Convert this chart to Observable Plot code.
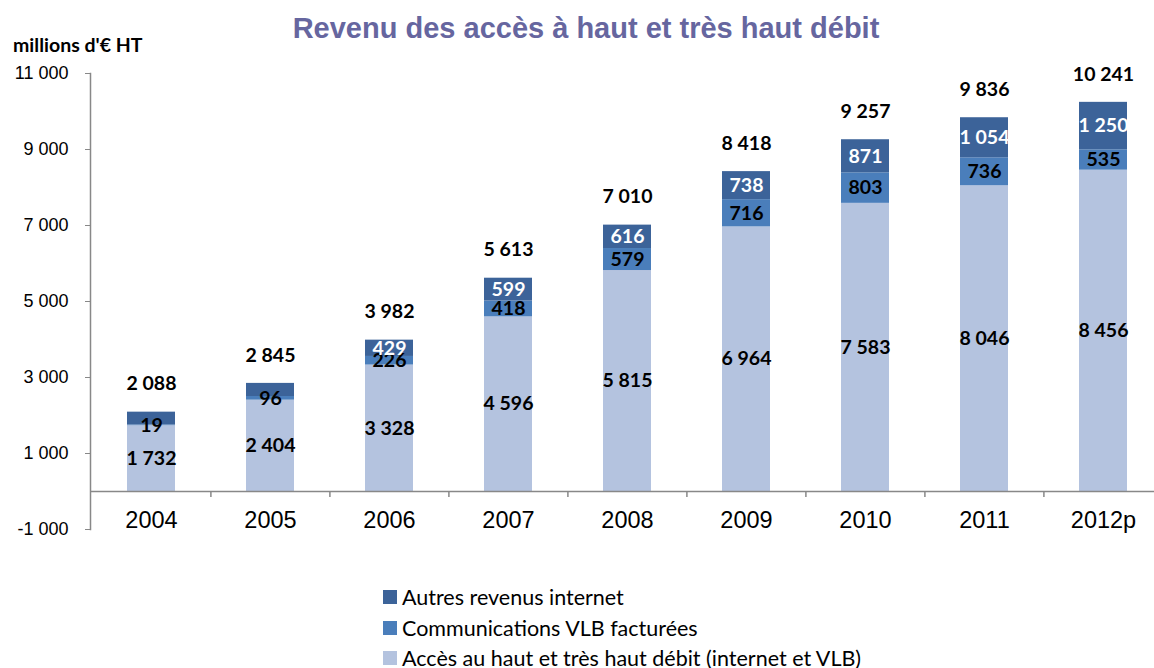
<!DOCTYPE html>
<html>
<head>
<meta charset="utf-8">
<script src="https://cdn.jsdelivr.net/npm/d3@7"></script>
<script src="https://cdn.jsdelivr.net/npm/@observablehq/plot@0.6"></script>
<style>
  html, body { margin: 0; padding: 0; background: #fff; overflow: hidden; }
  #wrap { position: relative; width: 1154px; height: 668px; }
  #title { position: absolute; left: 0; width: 1172px; top: 12px; text-align: center;
    font-family: "Liberation Sans", Arial, sans-serif; font-weight: bold; font-size: 29px; color: #66669F; }
  #unit { position: absolute; left: 13px; top: 33px; font-family: Lato, sans-serif; font-weight: bold; font-size: 19.5px; color: #000; }
  #chart { position: absolute; left: 0; top: 0; }
  #legend { position: absolute; left: 383px; top: 582px; font-family: Lato, sans-serif; font-size: 21.5px; color: #000; }
  .row { display: flex; align-items: center; height: 30.5px; }
  .sw { width: 14px; height: 14px; margin-right: 5px; }
</style>
</head>
<body>
<div id="wrap">
  <div id="chart"></div>
  <div id="title">Revenu des accès à haut et très haut débit</div>
  <div id="unit">millions d'€ HT</div>
  <div id="legend"></div>
</div>
<script>
const years = ["2004","2005","2006","2007","2008","2009","2010","2011","2012p"];
const acces = [1732, 2404, 3328, 4596, 5815, 6964, 7583, 8046, 8456];
const vlb = [19, 96, 226, 418, 579, 716, 803, 736, 535];
const autres = [337, 345, 429, 599, 616, 738, 871, 1054, 1250];
const totals = [2088, 2845, 3982, 5613, 7010, 8418, 9257, 9836, 10241];
const showAutresLabel = [false, false, true, true, true, true, true, true, true];
const seriesNames = ["Accès au haut et très haut débit (internet et VLB)", "Communications VLB facturées", "Autres revenus internet"];
const seriesColors = ["#B4C3DF", "#4A7EBB", "#3C6399"];
const yTicks = [-1000, 1000, 3000, 5000, 7000, 9000, 11000];

const loc = d3.formatLocale({decimal: ",", thousands: "\u00a0", grouping: [3], currency: ["", ""], minus: "-"});
const fmt = loc.format(",d");

const rows = [];
years.forEach((yr, i) => {
  const vals = [acces[i], vlb[i], autres[i]];
  let base = 0;
  vals.forEach((v, s) => {
    rows.push({year: yr, series: seriesNames[s], s, value: v, y1: base, y2: base + v,
      show: s === 2 ? showAutresLabel[i] : true});
    base += v;
  });
});
const totalRows = years.map((yr, i) => ({year: yr, total: totals[i]}));

const plot = Plot.plot({
  width: 1154,
  height: 560,
  marginTop: 73,
  marginBottom: 31,
  marginLeft: 90,
  marginRight: 0,
  x: {type: "band", domain: years, range: [90, 1163], paddingInner: 0.6, paddingOuter: 0.3, axis: null},
  y: {domain: [-1000, 11000], axis: null},
  color: {domain: seriesNames, range: seriesColors},
  marks: [
    Plot.barY(rows, {x: "year", y1: "y1", y2: "y2", fill: "series"}),
    Plot.frame({anchor: "left", stroke: "#888", strokeWidth: 1.5}),
    Plot.ruleY([0], {stroke: "#888", strokeWidth: 1.5}),
    Plot.ruleX(years.slice(1), {x: d => d, dx: -59.6, y1: 0, y2: -160, stroke: "#888", strokeWidth: 1.5}),
    Plot.axisY({ticks: yTicks, tickSize: 5, tickPadding: 17, tickFormat: fmt, stroke: "#888", fill: "#000",
      fontSize: 18, fontFamily: "Liberation Sans, Arial, sans-serif"}),
    Plot.text(years, {x: d => d, y: () => 0, dy: 29, text: d => d, fontSize: 23.5,
      fontFamily: "Liberation Sans, Arial, sans-serif", fill: "#000"}),
    Plot.text(rows.filter(r => r.show), {x: "year", y: r => (r.y1 + r.y2) / 2, text: r => fmt(r.value),
      fill: r => r.s === 2 ? "#fff" : "#000", fontWeight: "bold", fontSize: 19.5, fontFamily: "Lato, sans-serif"}),
    Plot.text(totalRows, {x: "year", y: "total", dy: -28, text: d => fmt(d.total),
      fill: "#000", fontWeight: "bold", fontSize: 19.5, fontFamily: "Lato, sans-serif"})
  ]
});
document.getElementById("chart").appendChild(plot);

const legend = document.getElementById("legend");
[2, 1, 0].forEach(s => {
  const row = document.createElement("div");
  row.className = "row";
  const sw = document.createElement("div");
  sw.className = "sw";
  sw.style.background = seriesColors[s];
  const t = document.createElement("span");
  t.textContent = seriesNames[s];
  row.appendChild(sw); row.appendChild(t);
  legend.appendChild(row);
});
</script>
</body>
</html>
